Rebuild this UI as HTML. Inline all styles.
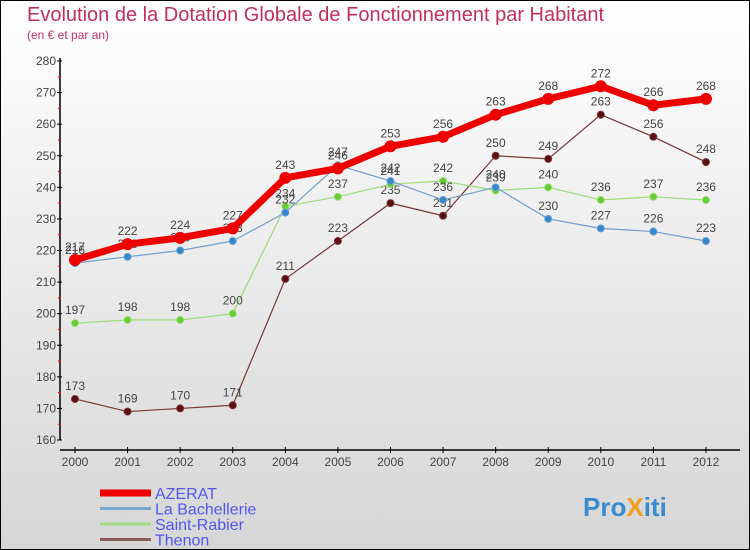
<!DOCTYPE html>
<html><head><meta charset="utf-8"><style>
body{margin:0}
#c{width:750px;height:550px;position:relative;box-sizing:border-box;border:1px solid #000;background:linear-gradient(#fff,#d6d6d6);font-family:"Liberation Sans",sans-serif;overflow:hidden}
</style></head><body>
<div id="c">
<svg id="s" width="750" height="550" style="position:absolute;left:-1px;top:-1px">
<text x="27" y="21" font-size="20" fill="#c0305a">Evolution de la Dotation Globale de Fonctionnement par Habitant</text>
<text x="27" y="39" font-size="12" fill="#c0305a">(en € et par an)</text>
<g id="g"></g>
</svg>
</div>
<script>
const years=[2000,2001,2002,2003,2004,2005,2006,2007,2008,2009,2010,2011,2012];
const azerat=[217,222,224,227,243,246,253,256,263,268,272,266,268];
const bachellerie=[216,218,220,223,232,247,242,236,240,230,227,226,223];
const saintRabier=[197,198,198,200,234,237,241,242,239,240,236,237,236];
const thenon=[173,169,170,171,211,223,235,231,250,249,263,256,248];
const yTicks=[160,170,180,190,200,210,220,230,240,250,260,270,280];
const NS="http://www.w3.org/2000/svg";
const g=document.getElementById('g');
const X=i=>75+i*52.58;
const Y=v=>440-(v-160)*(379/120);
function el(t,a,p){const e=document.createElementNS(NS,t);for(const k in a)e.setAttribute(k,a[k]);(p||g).appendChild(e);return e;}
let a=el('line',{x1:60,y1:58,x2:60,y2:440,stroke:'#000','stroke-width':1.5});


a=el('line',{x1:60,y1:450,x2:740,y2:450,stroke:'#000','stroke-width':1.5});


yTicks.forEach((v,i)=>{
  el('line',{x1:57,x2:62,y1:Y(v),y2:Y(v),stroke:'#000'});
  if(i<yTicks.length-1)el('line',{x1:58,x2:61,y1:Y(v+5),y2:Y(v+5),stroke:'#f00'});
  const t=el('text',{x:56,y:Y(v)+4,'font-size':12,fill:'#444','text-anchor':'end'});
  t.textContent=v;
  
  
});
years.forEach((y,i)=>{
  el('line',{x1:X(i),x2:X(i),y1:447,y2:453,stroke:'#000'});
  const t=el('text',{x:X(i),y:466,'font-size':12,fill:'#444','text-anchor':'middle'});
  t.textContent=y;
  
  
});
function series(data,color,w,r,name,dot){
  const p=el('polyline',{points:data.map((v,i)=>X(i)+','+Y(v)).join(' '),fill:'none',stroke:color,'stroke-width':w,'stroke-linejoin':'round'});
  
  
  data.forEach((v,i)=>{
    const c=el('circle',{cx:X(i),cy:Y(v),r:r,fill:dot,stroke:color,'stroke-width':1});
    
    
    const t=el('text',{x:X(i),y:Y(v)-9,'font-size':12,fill:'#444','text-anchor':'middle'});
    t.textContent=v;
    
    
  });
}
series(thenon,'#7a3535',1.2,3.5,'thenon','#5a1010');
series(saintRabier,'#99dd77',1.2,3.5,'saint-rabier','#66cc33');
series(bachellerie,'#6fa0d0',1.2,3.5,'la-bachellerie','#3388cc');
series(azerat,'#ee0000',7,5.5,'azerat','#ee0000');
const leg=[['AZERAT','#ee0000',7],['La Bachellerie','#7aa8cc',3],['Saint-Rabier','#a0dd80',3],['Thenon','#8a5a5a',3]];
leg.forEach((l,i)=>{
  const y=493+i*15.5;
  const ln=el('line',{x1:100,x2:151,y1:y,y2:y,stroke:l[1],'stroke-width':l[2]});
  
  
  const t=el('text',{x:155,y:y+6,'font-size':16,fill:'#5555ee'});
  t.textContent=l[0];
  
  
});
const lg=el('text',{x:583,y:516,'font-size':26,'font-weight':'bold',fill:'#3a8ad0'});


[['Pro','#3a8ad0'],['X','#f0a020'],['iti','#3a8ad0']].forEach(p=>{const s=el('tspan',{fill:p[1]},lg);s.textContent=p[0];});
</script>
</body></html>
